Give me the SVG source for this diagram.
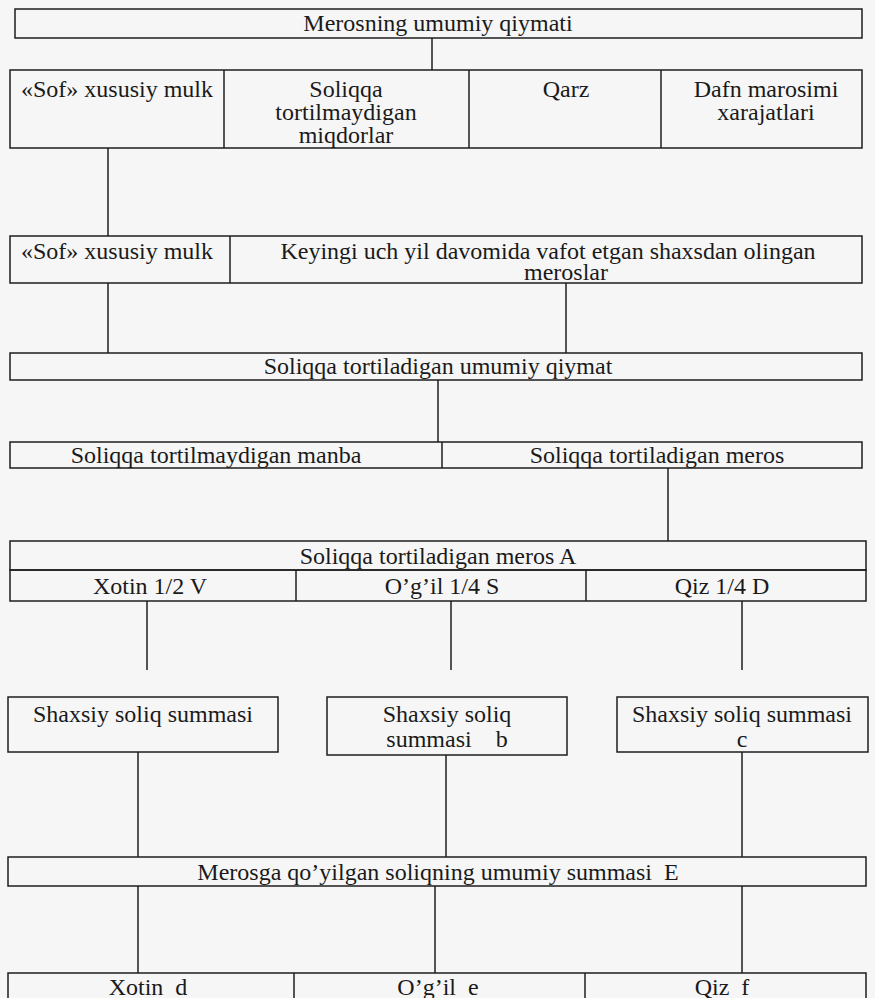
<svg xmlns="http://www.w3.org/2000/svg" width="875" height="998" viewBox="0 0 875 998">
<style>
.b{fill:none;stroke:#1e1e1e;stroke-width:1.5}
.c line{stroke:#1e1e1e;stroke-width:1.5}
text{font-family:"Liberation Serif","Times New Roman",serif;font-size:24px;fill:#1a1a1a;text-anchor:middle}
</style>
<rect width="875" height="998" fill="#f6f6f6"/>
<g id="connectors" class="c">
<line x1="432" y1="38" x2="432" y2="70"/>
<line x1="108" y1="148" x2="108" y2="236"/>
<line x1="108" y1="283" x2="108" y2="353"/>
<line x1="566" y1="283" x2="566" y2="353"/>
<line x1="438" y1="380" x2="438" y2="442"/>
<line x1="668" y1="468" x2="668" y2="541"/>
<line x1="147" y1="601" x2="147" y2="670"/>
<line x1="451" y1="601" x2="451" y2="670"/>
<line x1="742" y1="601" x2="742" y2="670"/>
<line x1="138" y1="752" x2="138" y2="857"/>
<line x1="446" y1="755" x2="446" y2="857"/>
<line x1="742" y1="752" x2="742" y2="857"/>
<line x1="138" y1="886" x2="138" y2="973"/>
<line x1="435" y1="886" x2="435" y2="973"/>
<line x1="742" y1="886" x2="742" y2="973"/>
</g>
<g id="n1"><rect class="b" x="15" y="9" width="847" height="29"/><text x="438" y="31">Merosning umumiy qiymati</text></g>
<g id="row2">
<rect class="b" x="10" y="70" width="852" height="78"/>
<line class="b" x1="224" y1="70" x2="224" y2="148"/>
<line class="b" x1="469" y1="70" x2="469" y2="148"/>
<line class="b" x1="661" y1="70" x2="661" y2="148"/>
</g>
<g id="n2a"><text x="117" y="97">«Sof» xususiy mulk</text></g>
<g id="n2b"><text x="346" y="97">Soliqqa</text><text x="346" y="120">tortilmaydigan</text><text x="346" y="143">miqdorlar</text></g>
<g id="n2c"><text x="566" y="97">Qarz</text></g>
<g id="n2d"><text x="766" y="97">Dafn marosimi</text><text x="766" y="120">xarajatlari</text></g>
<g id="row3">
<rect class="b" x="10" y="236" width="852" height="47"/>
<line class="b" x1="230" y1="236" x2="230" y2="283"/>
</g>
<g id="n3a"><text x="117" y="259">«Sof» xususiy mulk</text></g>
<g id="n3b"><text x="548" y="259">Keyingi uch yil davomida vafot etgan shaxsdan olingan</text><text x="566" y="280">meroslar</text></g>
<g id="n4"><rect class="b" x="10" y="353" width="852" height="27"/><text x="438" y="374">Soliqqa tortiladigan umumiy qiymat</text></g>
<g id="row5">
<rect class="b" x="10" y="442" width="852" height="26"/>
<line class="b" x1="442" y1="442" x2="442" y2="468"/>
</g>
<g id="n5a"><text x="216" y="463">Soliqqa tortilmaydigan manba</text></g>
<g id="n5b"><text x="657" y="463">Soliqqa tortiladigan meros</text></g>
<g id="n6"><rect class="b" x="10" y="541" width="856" height="29"/><text x="438" y="564">Soliqqa tortiladigan meros A</text></g>
<g id="row7">
<rect class="b" x="10" y="570" width="856" height="31"/>
<line class="b" x1="296" y1="570" x2="296" y2="601"/>
<line class="b" x1="586" y1="570" x2="586" y2="601"/>
</g>
<g id="n7a"><text x="150" y="594">Xotin 1/2 V</text></g>
<g id="n7b"><text x="442" y="594">O’g’il 1/4 S</text></g>
<g id="n7c"><text x="722" y="594">Qiz 1/4 D</text></g>
<g id="n8a"><rect class="b" x="8" y="697" width="270" height="55"/><text x="143" y="722">Shaxsiy soliq summasi</text></g>
<g id="n8b"><rect class="b" x="327" y="697" width="240" height="58"/><text x="447" y="722">Shaxsiy soliq</text><text x="447" y="747" xml:space="preserve">summasi    b</text></g>
<g id="n8c"><rect class="b" x="617" y="697" width="251" height="55"/><text x="742" y="722">Shaxsiy soliq summasi</text><text x="742" y="747">c</text></g>
<g id="n9"><rect class="b" x="8" y="857" width="858" height="29"/><text x="438" y="880" xml:space="preserve">Merosga qo’yilgan soliqning umumiy summasi  E</text></g>
<g id="row10">
<rect class="b" x="8" y="973" width="858" height="40"/>
<line class="b" x1="294" y1="973" x2="294" y2="1013"/>
<line class="b" x1="585" y1="973" x2="585" y2="1013"/>
</g>
<g id="n10a"><text x="148" y="995" xml:space="preserve">Xotin  d</text></g>
<g id="n10b"><text x="438" y="995" xml:space="preserve">O’g’il  e</text></g>
<g id="n10c"><text x="722" y="995" xml:space="preserve">Qiz  f</text></g>
</svg>
